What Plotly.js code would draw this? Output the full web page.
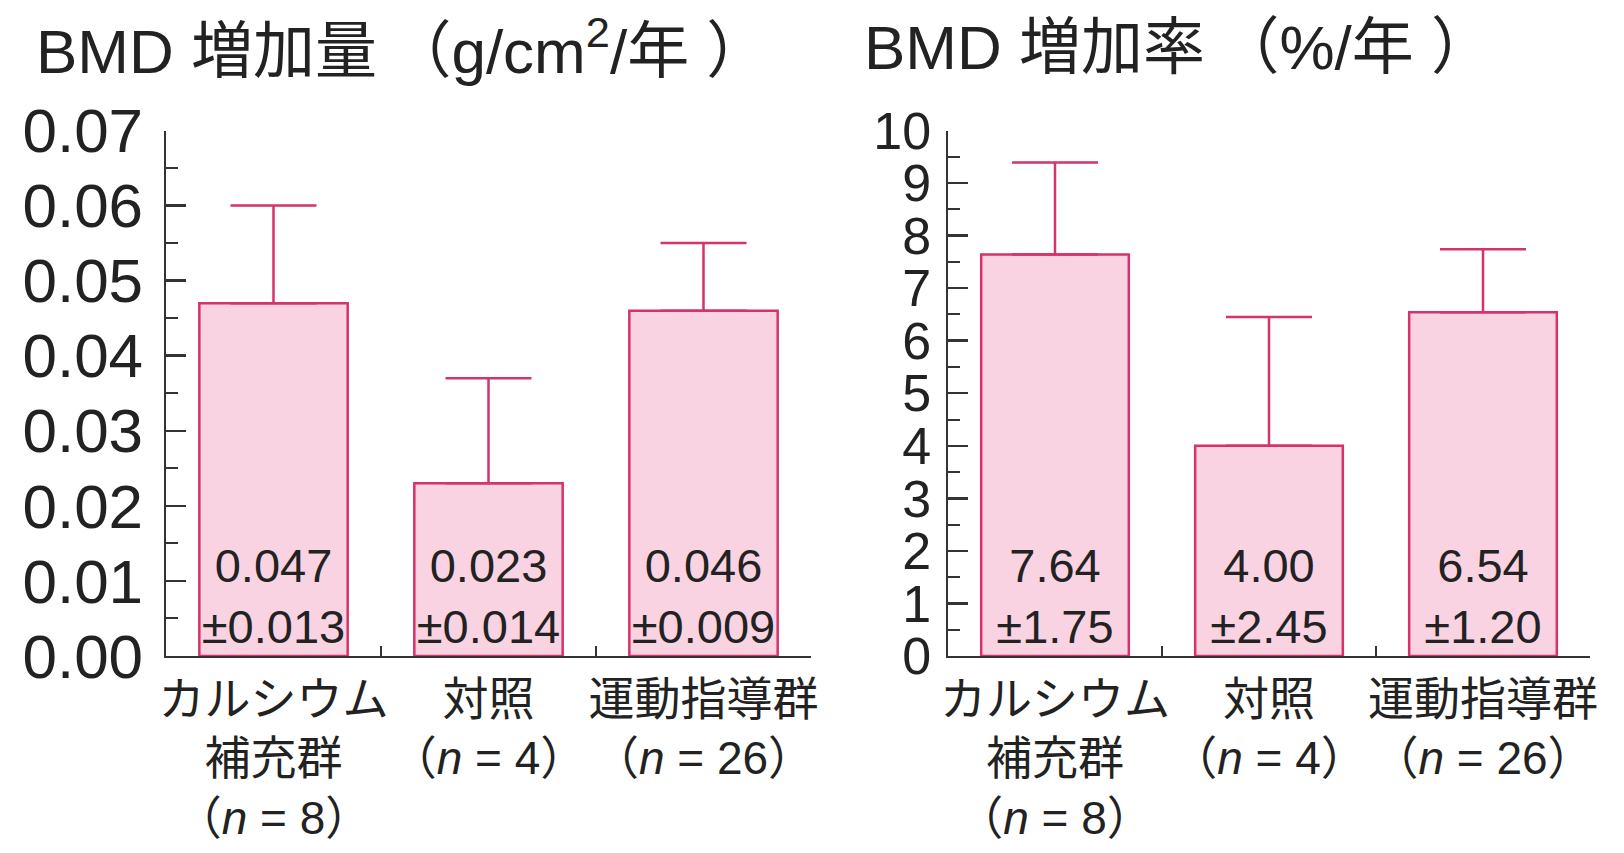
<!DOCTYPE html>
<html>
<head>
<meta charset="utf-8">
<script src="https://cdn.plot.ly/plotly-3.0.1.min.js"></script>
<style>html,body{margin:0;padding:0;background:#fff;}#chart{width:1624px;height:853px;}</style>
</head>
<body>
<div id="chart"></div>
<script>
const categories = ['カルシウム<br>補充群<br>（<i>n</i> = 8）', '対照<br>（<i>n</i> = 4）', '運動指導群<br>（<i>n</i> = 26）'];
const amountMean = [0.047, 0.023, 0.046];
const amountSD = [0.013, 0.014, 0.009];
const rateMean = [7.64, 4.00, 6.54];
const rateSD = [1.75, 2.45, 1.20];
const titleLeft = 'BMD 増加量\u2009（g/cm<sup>2</sup>/年 ）';
const titleRight = 'BMD 増加率\u2009（%/年 ）';

const FONT = 'Liberation Sans, Arial, Noto Sans CJK JP, sans-serif';
const FILL = '#f9d3e2';
const EDGE = '#d4336b';

function barTrace(means, sds, digits, xa, ya) {
  return {
    type: 'bar', x: categories, y: means, xaxis: xa, yaxis: ya,
    marker: {color: FILL, line: {color: EDGE, width: 2.5}},
    error_y: {type: 'data', symmetric: false, array: sds, arrayminus: sds.map(() => 0),
              color: EDGE, thickness: 2.5, width: 43},
    text: means.map((m, i) => m.toFixed(digits) + '<br>±' + sds[i].toFixed(digits)),
    textposition: 'inside', insidetextanchor: 'start', constraintext: 'none', textangle: 0,
    textfont: {family: FONT, size: 47, color: '#222'},
    hoverinfo: 'skip', showlegend: false, cliponaxis: false
  };
}

const yBase = {
  showline: true, linecolor: '#333', linewidth: 2.5, ticks: 'inside', ticklen: 20, tickwidth: 2.5,
  tickcolor: '#333', showgrid: false, zeroline: false, ticklabelstandoff: 8,
  domain: [0.231, 0.847], tickfont: {family: FONT, size: 62, color: '#222'}
};
const xBase = {
  showline: true, linecolor: '#333', linewidth: 2.5, ticks: 'inside', ticklen: 10, tickwidth: 2,
  tickcolor: '#333', tickson: 'boundaries', showgrid: false, zeroline: false, range: [-0.5, 2.5],
  tickangle: 0, tickfont: {family: FONT, size: 46, color: '#222'}, ticklabelstandoff: 1
};

const layout = {
  width: 1624, height: 853, margin: {l: 0, r: 0, t: 0, b: 0},
  paper_bgcolor: '#fff', plot_bgcolor: '#fff', bargap: 0.31,
  font: {family: FONT, color: '#222'},
  xaxis: Object.assign({}, xBase, {domain: [166/1624, 811/1624], anchor: 'y'}),
  yaxis: Object.assign({}, yBase, {anchor: 'x', range: [0, 0.07], dtick: 0.01, tickformat: '.2f',
    minor: {dtick: 0.005, ticks: 'inside', ticklen: 12, tickwidth: 2, tickcolor: '#333'}}),
  xaxis2: Object.assign({}, xBase, {domain: [948/1624, 1590/1624], anchor: 'y2'}),
  yaxis2: Object.assign({}, yBase, {anchor: 'x2', range: [0, 10], dtick: 1, ticklabelstandoff: 4,
    tickfont: {family: FONT, size: 52, color: '#222'},
    minor: {dtick: 0.5, ticks: 'inside', ticklen: 12, tickwidth: 2, tickcolor: '#333'}}),
  annotations: [
    {text: titleLeft, xref: 'paper', yref: 'paper', x: 34/1624, y: 1 - 47/853, xanchor: 'left', yanchor: 'middle',
     showarrow: false, font: {family: FONT, size: 62, color: '#222'}},
    {text: titleRight, xref: 'paper', yref: 'paper', x: 862/1624, y: 1 - 47/853, xanchor: 'left', yanchor: 'middle',
     showarrow: false, font: {family: FONT, size: 62, color: '#222'}}
  ]
};

Plotly.newPlot('chart', [
  barTrace(amountMean, amountSD, 3, 'x', 'y'),
  barTrace(rateMean, rateSD, 2, 'x2', 'y2')
], layout, {staticPlot: true});
</script>
</body>
</html>
